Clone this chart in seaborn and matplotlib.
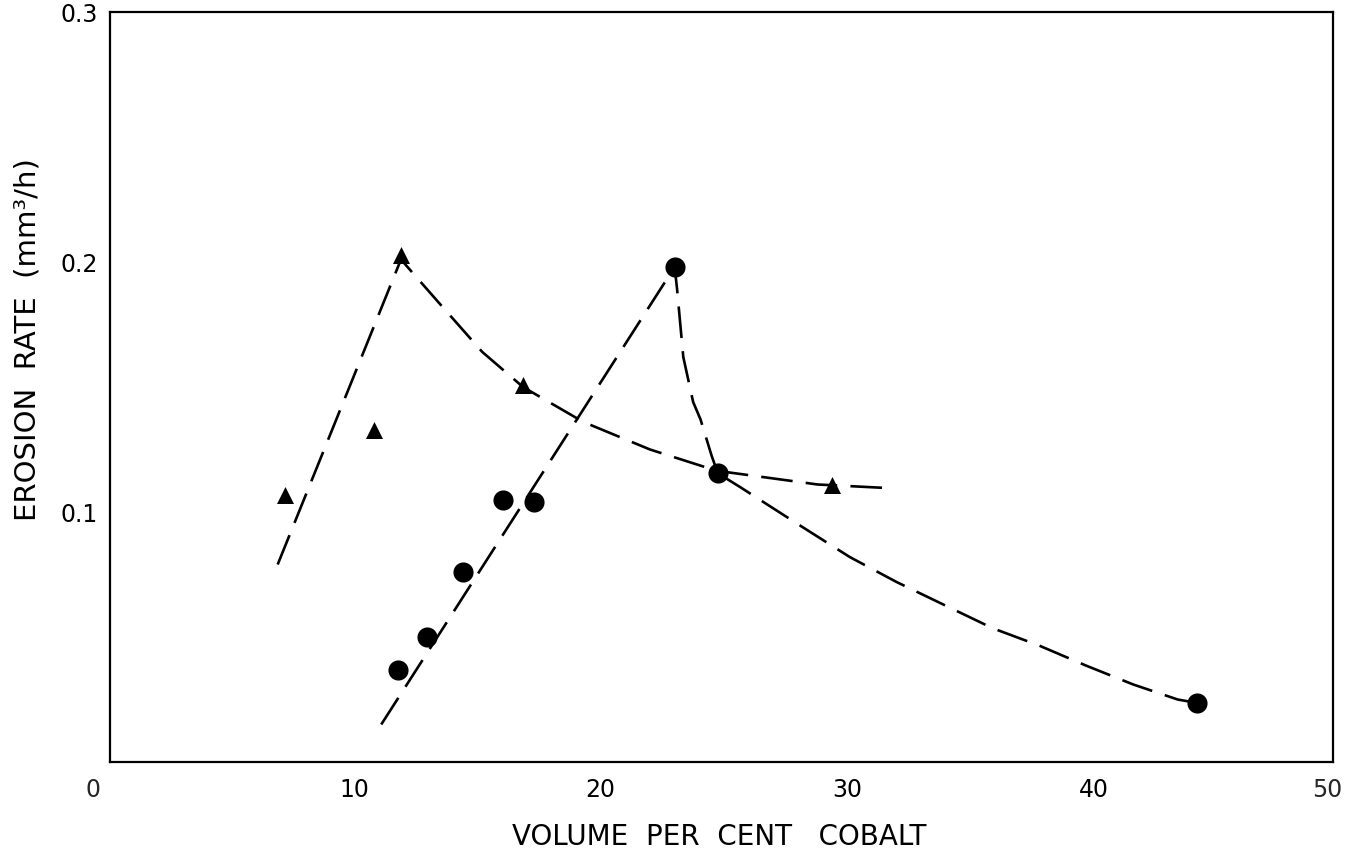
import numpy as np
import pandas as pd
import matplotlib
matplotlib.use("Agg")
import matplotlib.pyplot as plt
import seaborn as sns

# measured points
tri_x = [7.2, 10.8, 11.9, 16.85, 29.4]
tri_y = [0.107, 0.133, 0.203, 0.151, 0.111]
circ_x = [11.8, 12.95, 14.4, 16.05, 17.3, 23.0, 24.75, 44.2]
circ_y = [0.037, 0.050, 0.076, 0.105, 0.104, 0.198, 0.1155, 0.0236]

# hand-drawn dashed trend curves
tri_curve_x = [6.9, 11.9, 13.5, 15.2, 16.85, 19.3, 22.0, 24.7, 28.8, 31.8]
tri_curve_y = [0.079, 0.201, 0.183, 0.164, 0.150, 0.136, 0.125, 0.1165, 0.111, 0.1095]
circ_curve_x = [11.1, 23.0, 23.1, 23.35, 23.75, 24.05, 24.5, 24.75, 25.65, 28.1, 30.1, 32.0,
                34.0, 35.9, 37.8, 39.7, 41.6, 43.4, 44.2]
circ_curve_y = [0.015, 0.198, 0.189, 0.162, 0.144, 0.137, 0.1225, 0.1155, 0.110, 0.0945, 0.082,
                0.072, 0.0625, 0.0535, 0.0465, 0.0385, 0.031, 0.025, 0.0236]

x_ticks = [10, 20, 30, 40]
y_ticks = [0.1, 0.2, 0.3]
y_tick_labels = ["0.1", "0.2", "0.3"]

sns.set_style("white")
plt.rcParams['font.family'] = ['DejaVu Sans']

fig = plt.figure(figsize=(13.45, 8.62), dpi=100)
ax = fig.add_axes([110 / 1345, (862 - 763) / 862, (1333 - 110) / 1345, (763 - 13) / 862])

dash = (0, (12, 5))
sns.lineplot(x=tri_curve_x, y=tri_curve_y, ax=ax, sort=False, estimator=None,
             color="black", linewidth=1.9, linestyle=dash)
sns.lineplot(x=circ_curve_x, y=circ_curve_y, ax=ax, sort=False, estimator=None,
             color="black", linewidth=1.9, linestyle=dash)
sns.scatterplot(x=tri_x, y=tri_y, ax=ax, marker="^", s=150, color="black",
                edgecolor="black", linewidth=0, zorder=5)
sns.scatterplot(x=circ_x, y=circ_y, ax=ax, marker="o", s=210, color="black",
                edgecolor="black", linewidth=0, zorder=5)

ax.set_xlim(0.1, 49.7)
ax.set_ylim(0, 0.3)
ax.set_xticks(x_ticks)
ax.set_xticklabels([str(t) for t in x_ticks])
ax.set_yticks(y_ticks)
ax.set_yticklabels(y_tick_labels)
ax.tick_params(direction="in", length=8.5, width=1.3, labelsize=17, colors="black")
ax.tick_params(axis="x", pad=11)
ax.tick_params(axis="y", pad=9)

tr = ax.get_xaxis_transform()
ax.text(-0.6, -0.02, "0", transform=tr, ha="center", va="top", fontsize=17)
ax.text(49.45, -0.02, "50", transform=tr, ha="center", va="top", fontsize=17)

for s in ax.spines.values():
    s.set_visible(True)
    s.set_color("black")
    s.set_linewidth(1.6)

ax.set_xlabel("VOLUME  PER  CENT   COBALT", fontsize=20, color="black")
ax.set_ylabel("EROSION  RATE  (mm³/h)", fontsize=21, color="black")
ax.xaxis.set_label_coords(0.498, -0.08)
ax.yaxis.set_label_coords(-0.056, 0.564)

fig.savefig("out.png", dpi=100, facecolor="white")
